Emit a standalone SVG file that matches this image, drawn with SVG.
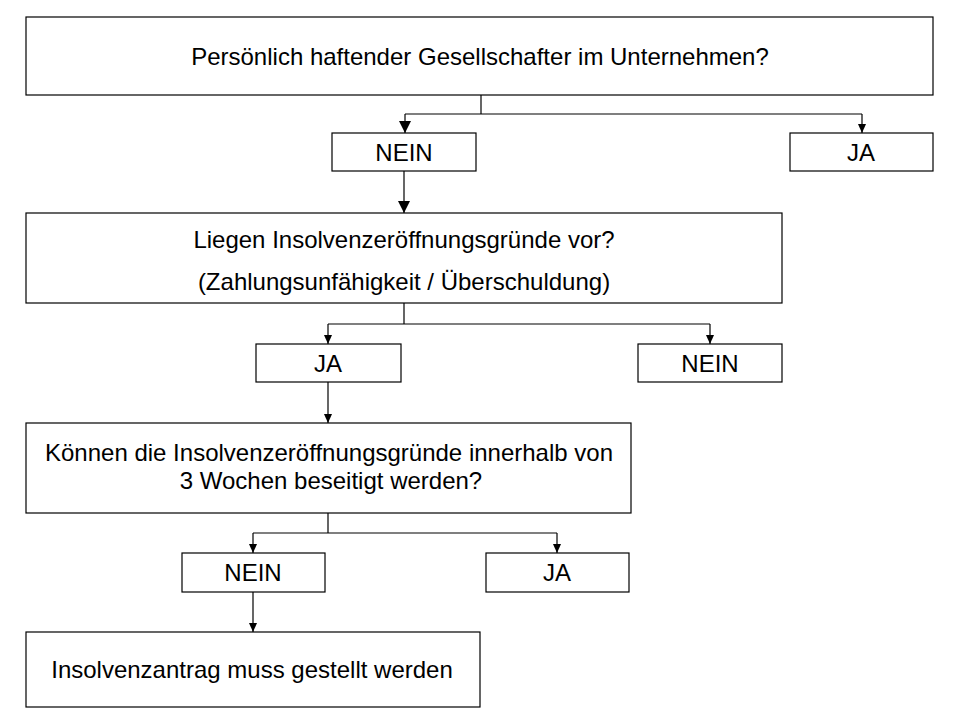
<svg xmlns="http://www.w3.org/2000/svg" width="960" height="720" viewBox="0 0 960 720">
<defs>
<marker id="big" markerUnits="userSpaceOnUse" markerWidth="12" markerHeight="13" refX="6" refY="12" viewBox="0 0 12 13"><path d="M0,0 L12,0 L6,12 Z" fill="#000"/></marker>
<marker id="small" markerUnits="userSpaceOnUse" markerWidth="8" markerHeight="9" refX="4" refY="9" viewBox="0 0 8 9"><path d="M0,0 L8,0 L4,9 Z" fill="#000"/></marker>
</defs>
<style>
rect{fill:#fff;stroke:#000;stroke-width:1.2}
text{font-family:"Liberation Sans",Arial,sans-serif;font-size:24px;fill:#000;text-anchor:middle}
.c{fill:none;stroke:#000;stroke-width:1.2}
</style>
<rect x="0" y="0" width="960" height="720" style="stroke:none"/>
<g id="q1"><rect x="26" y="17" width="907" height="78"/><text x="480" y="65">Persönlich haftender Gesellschafter im Unternehmen?</text></g>
<g id="nein1"><rect x="332" y="133" width="144" height="38"/><text x="404" y="161">NEIN</text></g>
<g id="ja1"><rect x="790" y="133" width="143" height="38"/><text x="861" y="161">JA</text></g>
<g id="q2"><rect x="26" y="213" width="756" height="90"/><text x="404" y="248">Liegen Insolvenzeröffnungsgründe vor?</text><text x="404" y="290">(Zahlungsunfähigkeit / Überschuldung)</text></g>
<g id="ja2"><rect x="256" y="344" width="145" height="38"/><text x="328" y="372">JA</text></g>
<g id="nein2"><rect x="638" y="344" width="144" height="38"/><text x="710" y="372">NEIN</text></g>
<g id="q3"><rect x="26" y="423" width="605" height="90"/><text x="329" y="461">Können die Insolvenzeröffnungsgründe innerhalb von</text><text x="331" y="489">3 Wochen beseitigt werden?</text></g>
<g id="nein3"><rect x="182" y="553" width="143" height="39"/><text x="253" y="581">NEIN</text></g>
<g id="ja3"><rect x="486" y="553" width="143" height="39"/><text x="557" y="581">JA</text></g>
<g id="result"><rect x="26" y="632" width="454" height="75"/><text x="252" y="678">Insolvenzantrag muss gestellt werden</text></g>
<g id="connectors">
<path class="c" d="M481,95 V114"/>
<path class="c" d="M405,114 H862"/>
<path class="c" d="M405,114 V133" marker-end="url(#big)"/>
<path class="c" d="M862,114 V133" marker-end="url(#small)"/>
<path class="c" d="M404,171 V213" marker-end="url(#big)"/>
<path class="c" d="M404,303 V324 M328,324 H710"/>
<path class="c" d="M328,324 V344" marker-end="url(#small)"/>
<path class="c" d="M710,324 V344" marker-end="url(#small)"/>
<path class="c" d="M328,382 V423" marker-end="url(#small)"/>
<path class="c" d="M328,513 V533 M253,533 H557"/>
<path class="c" d="M253,533 V553" marker-end="url(#small)"/>
<path class="c" d="M557,533 V553" marker-end="url(#small)"/>
<path class="c" d="M253,592 V632" marker-end="url(#small)"/>
</g>
</svg>
